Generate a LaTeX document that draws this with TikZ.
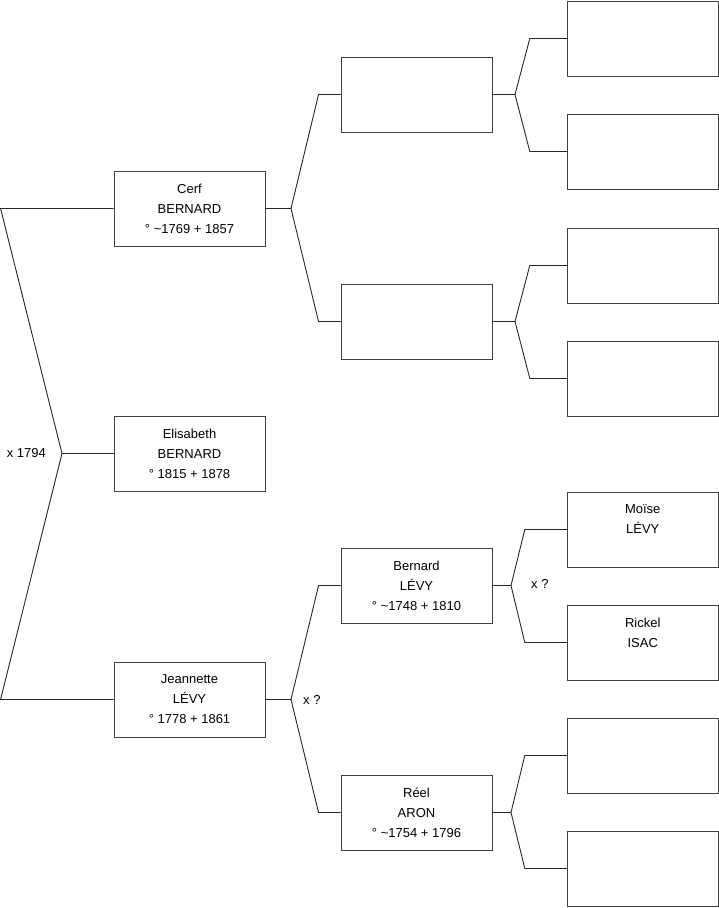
\documentclass[tikz,border=0pt]{standalone}
\usepackage{fontspec}
\setmainfont{Liberation Sans}
\usetikzlibrary{positioning, calc}

\begin{document}
\begin{tikzpicture}[
        x=1pt, y=-1pt,
        person/.style={rectangle, draw=black!75, line width=0.9pt, minimum width=151pt, minimum height=75pt, inner sep=0pt, align=center, font=\fontsize{13}{20}\selectfont},
        link/.style={draw=black!85, line width=0.9pt},
        union/.style={inner sep=0pt, font=\fontsize{13}{20}\selectfont}
    ]
        \useasboundingbox (0,0) rectangle (719,908);

        % generation 1
        \node [person] (elisabeth) at (189.5,453.5) {Elisabeth\\BERNARD\\° 1815 + 1878};
        \node [person] (cerf) at (189.5,208.5) {Cerf\\BERNARD\\° \textasciitilde1769 + 1857};
        \node [person] (jeannette) at (189.5,699.5) {Jeannette\\LÉVY\\° 1778 + 1861};

        % generation 2
        \node [person] (cerfF) at (416.5,94.5) {};
        \node [person] (cerfM) at (416.5,321.5) {};
        \node [person] (bernard) at (416.5,585.5) {Bernard\\LÉVY\\° \textasciitilde1748 + 1810};
        \node [person] (reel) at (416.5,812.5) {Réel\\ARON\\° \textasciitilde1754 + 1796};

        % generation 3
        \node [person] (cerfFF) at (642.75,38.5) {};
        \node [person] (cerfFM) at (642.75,151.5) {};
        \node [person] (cerfMF) at (642.75,265.5) {};
        \node [person] (cerfMM) at (642.75,378.5) {};
        \node [person] (moise) at (642.75,529.5) {Moïse\\LÉVY\\\mbox{}};
        \node [person] (rickel) at (642.75,642.5) {Rickel\\ISAC\\\mbox{}};
        \node [person] (reelF) at (642.75,755.5) {};
        \node [person] (reelM) at (642.75,868.5) {};

        % forks
        \coordinate (vElisabeth) at (62,453.5);
        \coordinate (vCerf) at (291,208.5);
        \coordinate (vJeannette) at (291,699.5);
        \coordinate (vCerfF) at (515,94.5);
        \coordinate (vCerfM) at (515,321.5);
        \coordinate (vBernard) at (511,585.5);
        \coordinate (vReel) at (511,812.5);

        \draw[link] (cerf.west) -- ++(-113,0) -- (vElisabeth) -- ($(jeannette.west)+(-113,0)$) -- (jeannette.west);
        \draw[link] (vElisabeth) -- (elisabeth.west);
        \node [union, left=16pt of vElisabeth] (uElisabeth) {x 1794};

        \draw[link] (cerf.east) -- (vCerf);
        \draw[link] (cerfF.west) -- ++(-22,0) -- (vCerf) -- ($(cerfM.west)+(-22,0)$) -- (cerfM.west);

        \draw[link] (jeannette.east) -- (vJeannette);
        \draw[link] (bernard.west) -- ++(-22,0) -- (vJeannette) -- ($(reel.west)+(-22,0)$) -- (reel.west);
        \node [union, right=12pt of vJeannette] (uJeannette) {x ?};

        \draw[link] (cerfF.east) -- (vCerfF);
        \draw[link] (cerfFF.west) -- ++(-37,0) -- (vCerfF) -- ($(cerfFM.west)+(-37,0)$) -- (cerfFM.west);

        \draw[link] (cerfM.east) -- (vCerfM);
        \draw[link] (cerfMF.west) -- ++(-37,0) -- (vCerfM) -- ($(cerfMM.west)+(-37,0)$) -- (cerfMM.west);

        \draw[link] (bernard.east) -- (vBernard);
        \draw[link] (moise.west) -- ++(-42,0) -- (vBernard) -- ($(rickel.west)+(-42,0)$) -- (rickel.west);
        \node [union, right=20pt of vBernard, yshift=1.5pt] (uBernard) {x ?};

        \draw[link] (reel.east) -- (vReel);
        \draw[link] (reelF.west) -- ++(-42,0) -- (vReel) -- ($(reelM.west)+(-42,0)$) -- (reelM.west);
    \end{tikzpicture}
\end{document}
